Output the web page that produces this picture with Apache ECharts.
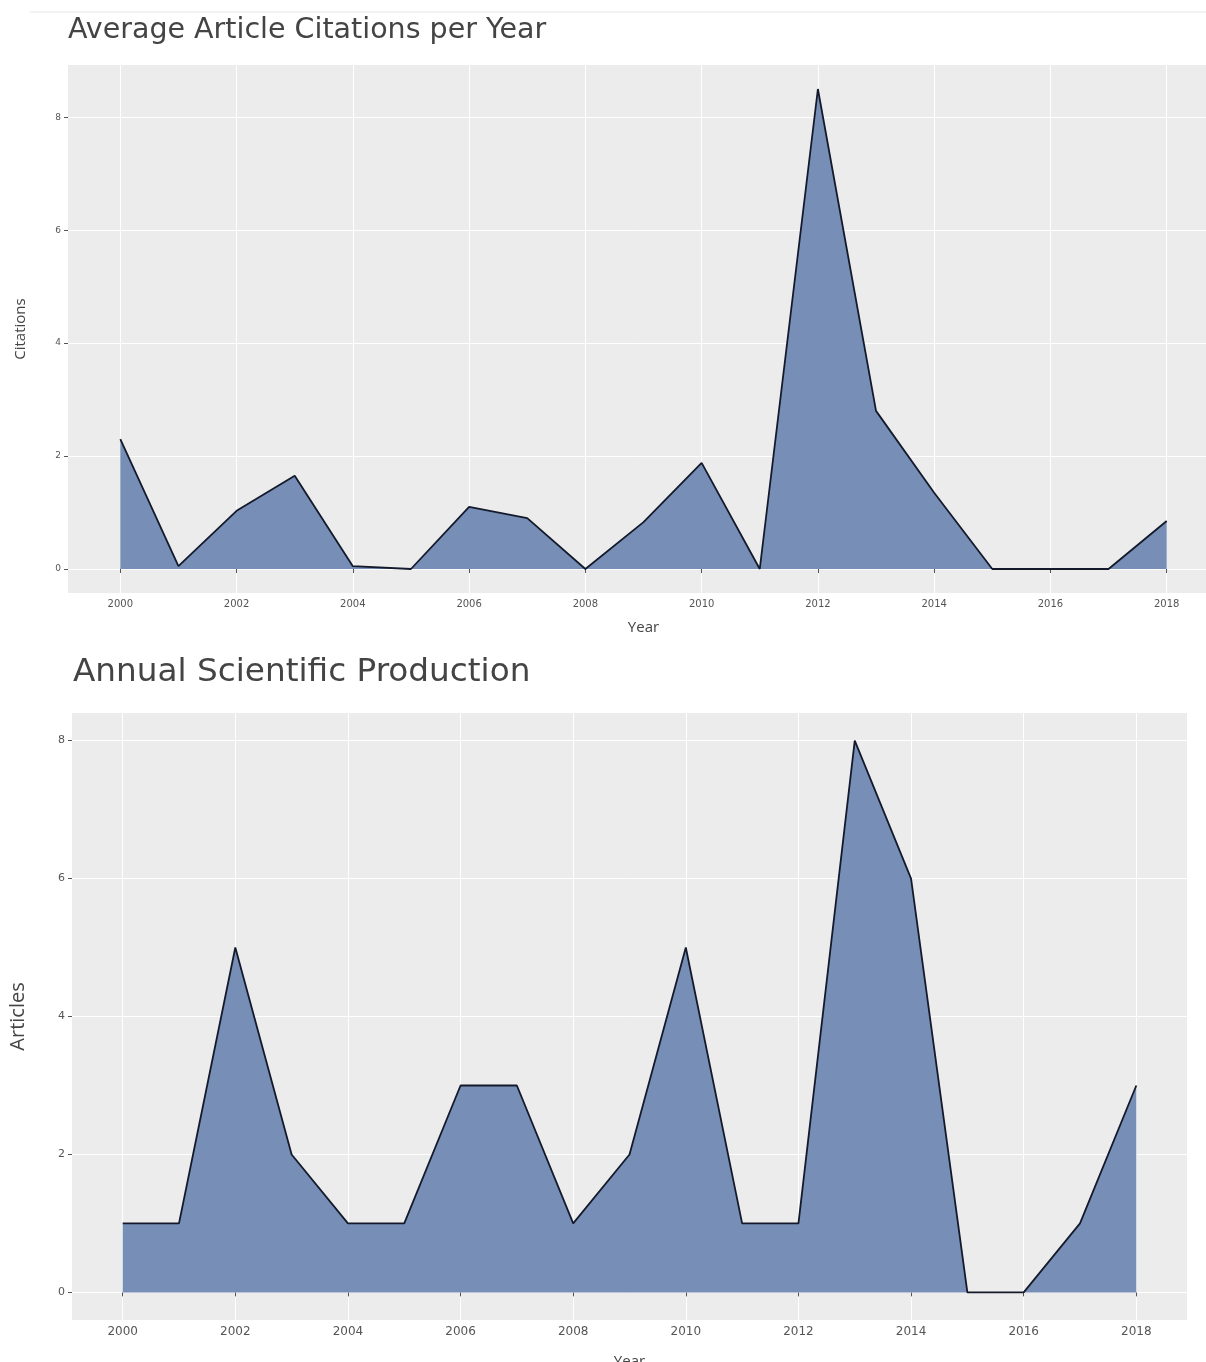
<!DOCTYPE html>
<html>
<head>
<meta charset="utf-8">
<script src="https://cdn.jsdelivr.net/npm/echarts@6/dist/echarts.min.js"></script>
<style>
  html, body { margin: 0; padding: 0; background: #fff; }
  #main { width: 1206px; height: 1362px; }
</style>
</head>
<body>
<div id="main"></div>
<script>
// data
const years = [2000, 2001, 2002, 2003, 2004, 2005, 2006, 2007, 2008, 2009,
  2010, 2011, 2012, 2013, 2014, 2015, 2016, 2017, 2018];
const citations = [2.3, 0.05, 1.03, 1.65, 0.05, 0, 1.1, 0.9, 0, 0.83,
  1.88, 0, 8.5, 2.8, 1.35, 0, 0, 0, 0.85];
const articles = [1, 1, 5, 2, 1, 1, 3, 3, 1, 2, 5, 1, 1, 8, 6, 0, 0, 1, 3];
const yearTicks = [2000, 2002, 2004, 2006, 2008, 2010, 2012, 2014, 2016, 2018];
const valueTicks = [0, 2, 4, 6, 8];

const chart = echarts.init(document.getElementById('main'));
const font = '"Open Sans", "DejaVu Sans", sans-serif';
const tickFont = '"DejaVu Sans", sans-serif';
const fillColor = '#778eb6';
const panelBg = '#ececec';

function pair(xs, ys) {
  return xs.map((x, i) => [x, ys[i]]);
}

// x axis in ggplot style (5% padding on both sides)
function xAxis(gridIndex, fontSize, nameGap) {
  return {
    type: 'value', gridIndex: gridIndex,
    min: 1999.1, max: 2018.9,
    name: 'Year', nameLocation: 'middle', nameGap: nameGap,
    nameTextStyle: { color: '#444', fontSize: 15, fontFamily: font },
    axisLine: { show: false },
    axisTick: { show: true, length: 4, customValues: yearTicks, lineStyle: { color: '#555' } },
    axisLabel: { customValues: yearTicks, formatter: v => String(v),
      color: '#555', fontSize: fontSize, fontFamily: tickFont, margin: 6 },
    splitLine: { show: true, lineStyle: { color: '#ffffff', width: 1 } }
  };
}

function yAxis(gridIndex, name, max, nameSize, nameGap, fontSize) {
  return {
    type: 'value', gridIndex: gridIndex,
    min: -max * 0.05 / 1.05, max: max,
    name: name, nameLocation: 'middle', nameGap: nameGap, nameRotate: 90,
    nameTextStyle: { color: '#444', fontSize: nameSize, fontFamily: font },
    axisLine: { show: false },
    axisTick: { show: true, length: 4, customValues: valueTicks, lineStyle: { color: '#555' } },
    axisLabel: { customValues: valueTicks, color: '#555', fontSize: fontSize, fontFamily: tickFont, margin: 7 },
    splitLine: { show: true, lineStyle: { color: '#ffffff', width: 1 } }
  };
}

const option = {
  animation: false,
  backgroundColor: '#ffffff',
  title: [
    { text: 'Average Article Citations per Year', left: 63, top: 11,
      textStyle: { color: '#444', fontSize: 28.5, fontWeight: 'normal', fontFamily: tickFont } },
    { text: 'Annual Scientific Production', left: 68, top: 651,
      textStyle: { color: '#444', fontSize: 32.7, fontWeight: 'normal', fontFamily: tickFont } }
  ],
  graphic: [
    { type: 'line', shape: { x1: 30, y1: 12, x2: 1206, y2: 12 },
      style: { stroke: '#e6e6e6', lineWidth: 1 } }
  ],
  grid: [
    { left: 68, width: 1151, top: 65, height: 528, backgroundColor: panelBg, show: true, borderWidth: 0,
      outerBoundsMode: 'none', containLabel: false },
    { left: 72, width: 1115, top: 713, height: 607, backgroundColor: panelBg, show: true, borderWidth: 0,
      outerBoundsMode: 'none', containLabel: false }
  ],
  xAxis: [xAxis(0, 10, 27), xAxis(1, 12, 34)],
  yAxis: [
    yAxis(0, 'Citations', 8.925, 15, 40, 9),
    yAxis(1, 'Articles', 8.4, 20, 44, 11)
  ],
  series: [
    {
      type: 'line', xAxisIndex: 0, yAxisIndex: 0,
      data: pair(years, citations),
      showSymbol: false,
      lineStyle: { color: '#141a2b', width: 1.8 },
      areaStyle: { color: fillColor, opacity: 1, origin: 0 }
    },
    {
      type: 'line', xAxisIndex: 1, yAxisIndex: 1,
      data: pair(years, articles),
      showSymbol: false,
      lineStyle: { color: '#141a2b', width: 1.8 },
      areaStyle: { color: fillColor, opacity: 1, origin: 0 }
    }
  ]
};

chart.setOption(option);
</script>
</body>
</html>
